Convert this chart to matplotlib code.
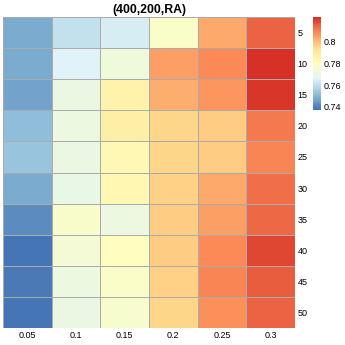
import numpy as np
import matplotlib
matplotlib.use("Agg")
import matplotlib.pyplot as plt
from matplotlib.colors import LinearSegmentedColormap

plt.rcParams['font.family'] = ['Liberation Sans', 'DejaVu Sans']

title = "(400,200,RA)"
col_labels = ["0.05", "0.1", "0.15", "0.2", "0.25", "0.3"]
row_labels = ["5", "10", "15", "20", "25", "30", "35", "40", "45", "50"]
values = np.array([
    [0.748, 0.761, 0.764, 0.778, 0.804, 0.815],
    [0.748, 0.766, 0.773, 0.805, 0.809, 0.823],
    [0.746, 0.771, 0.786, 0.803, 0.807, 0.822],
    [0.751, 0.772, 0.787, 0.796, 0.798, 0.811],
    [0.753, 0.771, 0.783, 0.796, 0.798, 0.810],
    [0.748, 0.770, 0.784, 0.797, 0.804, 0.813],
    [0.742, 0.777, 0.772, 0.798, 0.805, 0.814],
    [0.737, 0.774, 0.780, 0.798, 0.809, 0.819],
    [0.738, 0.772, 0.778, 0.797, 0.810, 0.816],
    [0.737, 0.771, 0.776, 0.796, 0.808, 0.815],
])
cbar_ticks = [0.74, 0.76, 0.78, 0.8]

colors = ["#4575B4", "#91BFDB", "#E0F3F8", "#FFFFBF", "#FEE090", "#FC8D59", "#D73027"]
cmap = LinearSegmentedColormap.from_list("rdylbu7", colors, N=100)
vmin, vmax = values.min(), values.max()

fig = plt.figure(figsize=(3.45, 3.45), dpi=100)
ax = fig.add_axes([3/345, 17/345, 292/345, 311/345])
mesh = ax.pcolormesh(values, cmap=cmap, vmin=vmin, vmax=vmax,
                     edgecolor="#ABABAB", linewidth=0.5)
ax.set_xlim(0, values.shape[1])
ax.set_ylim(values.shape[0], 0)
for s in ax.spines.values():
    s.set_visible(False)
ax.set_xticks(np.arange(values.shape[1]) + 0.5)
ax.set_xticklabels(col_labels, fontsize=6.5)
ax.set_yticks(np.arange(values.shape[0]) + 0.5)
ax.set_yticklabels(row_labels, fontsize=6.5)
ax.yaxis.tick_right()
ax.tick_params(length=0, pad=2)
ax.set_title(title, fontsize=8.8, fontweight="bold", pad=3)

cax = fig.add_axes([312.5/345, (345-110)/345, 8/345, 93/345])
cb = fig.colorbar(mesh, cax=cax, ticks=cbar_ticks)
cb.outline.set_visible(False)
cb.ax.set_yticklabels([f"{t:g}" for t in cbar_ticks], fontsize=6.5)
cb.ax.tick_params(length=0, pad=2)

fig.savefig("out.png", dpi=100)
